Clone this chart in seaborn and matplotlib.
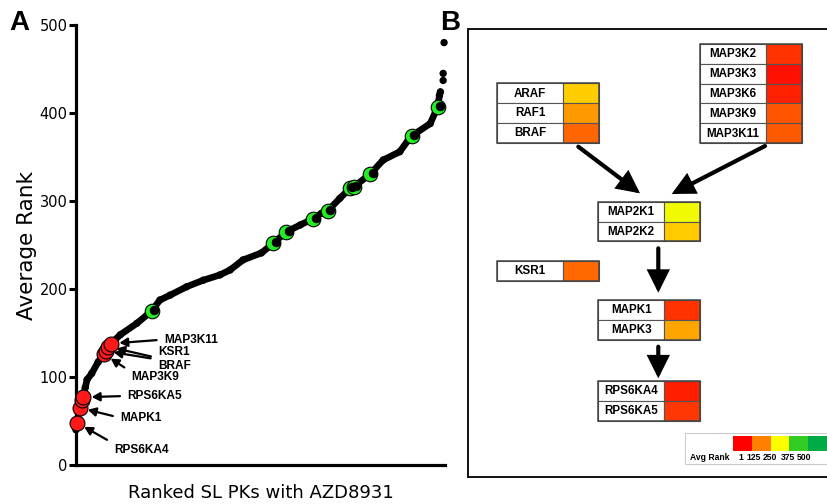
import numpy as np
import pandas as pd
import seaborn as sns
import matplotlib.pyplot as plt
from matplotlib.colors import LinearSegmentedColormap, Normalize
from matplotlib.patches import Rectangle, FancyArrowPatch
from matplotlib.transforms import offset_copy

# %%
# panel A: synthetic-lethal PKs ranked along x, average rank on y
pk_pos = [0, 1, 4, 6, 8, 10, 12, 17, 24, 30, 32, 35, 38, 48, 66, 82, 91, 102,
          120, 138, 156, 167, 181, 201, 214, 228, 243, 257, 266, 273, 286, 297,
          301, 319, 333, 351, 360, 364, 384, 392, 394, 395]
avg_rank = [40, 48, 65, 75, 77, 88, 97, 104, 117, 126, 129.5, 134.5, 138, 148,
            161, 175, 187.5, 193, 202.6, 210, 216, 221.6, 233, 241, 252, 265,
            272.7, 280, 286, 289, 303, 314.4, 316, 330.7, 346.6, 356, 369, 374,
            388, 407, 420, 424]
# isolated points at the top end
top_pos = [398, 398, 399]
top_rank = [437, 445, 480]

# MAPK pathway hits (red) and other highlighted PKs (green)
red_genes = ['RPS6KA4', 'MAPK1', '', 'RPS6KA5', 'MAP3K9', 'BRAF', 'KSR1', 'MAP3K11']
red_pos = [1, 4, 6, 8, 30, 32, 35, 38]
red_rank = [48, 65, 74, 77, 126, 129.5, 134.5, 138]
green_pos = [82, 214, 228, 257, 273, 297, 301, 319, 364, 392]
green_rank = [175, 252, 265, 280, 289, 314.4, 316, 330.7, 374, 407]

# panel B: pathway boxes, gene names and their avg rank (colour)
raf_genes = ['ARAF', 'RAF1', 'BRAF']
raf_rank = [200, 150, 100]
map3k_genes = ['MAP3K2', 'MAP3K3', 'MAP3K6', 'MAP3K9', 'MAP3K11']
map3k_rank = [50, 18, 34, 83, 88]
map2k_genes = ['MAP2K1', 'MAP2K2']
map2k_rank = [260, 198]
ksr_genes = ['KSR1']
ksr_rank = [104]
mapk_genes = ['MAPK1', 'MAPK3']
mapk_rank = [50, 161]
rsk_genes = ['RPS6KA4', 'RPS6KA5']
rsk_rank = [32, 55]
legend_ranks = [1, 125, 250, 375, 500]

# %%
sns.set_style('ticks')
plt.rcParams['font.family'] = ['DejaVu Sans']
plt.rcParams.update({'text.color': 'black', 'axes.labelcolor': 'black',
                     'xtick.color': 'black', 'ytick.color': 'black'})
BOLD = ['Liberation Sans', 'DejaVu Sans']

fig = plt.figure(figsize=(8.27, 5.04), dpi=100)
W, H = 827, 504

# ---------------- panel A
ax = fig.add_axes([76 / W, 39 / H, 369 / W, 440 / H])
curve = pd.DataFrame({'pos': pk_pos, 'rank': avg_rank})
tops = pd.DataFrame({'pos': top_pos, 'rank': top_rank})
reds = pd.DataFrame({'pos': red_pos, 'rank': red_rank, 'gene': red_genes})
greens = pd.DataFrame({'pos': green_pos, 'rank': green_rank})

sns.lineplot(data=curve, x='pos', y='rank', color='black', lw=4.8,
             estimator=None, solid_capstyle='round', solid_joinstyle='round',
             ax=ax, zorder=2, clip_on=False)
sns.scatterplot(data=pd.concat([curve, tops]), x='pos', y='rank', color='black',
                s=28, edgecolor='none', ax=ax, zorder=3, clip_on=False)
sns.scatterplot(data=greens, x='pos', y='rank', color='#22ee22', s=110,
                edgecolor='black', linewidth=0.8, ax=ax, zorder=4, clip_on=False)
# black centre of the green rings, slightly shifted like in the original
ax.scatter(greens['pos'], greens['rank'], s=34, color='black', zorder=5,
           transform=offset_copy(ax.transData, fig=fig, x=2.5, y=1.0, units='dots'))
sns.scatterplot(data=reds, x='pos', y='rank', color='#ff1a1a', s=115,
                edgecolor='black', linewidth=0.8, ax=ax, zorder=6, clip_on=False)

# label offsets (pixels from the marker) and arrow anchor on the text
label_layout = {
    'MAP3K11': (53, 4, (0, 0.5)),
    'KSR1': (50, -5.5, (0, 0.0)),
    'BRAF': (52.5, -14.5, (0, 1.0)),
    'MAP3K9': (27.5, -22.5, (0, 0.9)),
    'RPS6KA5': (44, 1.3, (0, 0.5)),
    'MAPK1': (40.5, -10, (0, 0.5)),
    'RPS6KA4': (37, -27, (0, 1.0)),
}
for _, row in reds.iterrows():
    if row['gene'] == '':
        continue
    dx, dy, rp = label_layout[row['gene']]
    ax.annotate(row['gene'], xy=(row['pos'], row['rank']), xytext=(dx, dy),
                textcoords='offset pixels', ha='left', va='center',
                fontsize=8.6, fontweight='bold', family=BOLD, zorder=7,
                arrowprops=dict(arrowstyle='-|>,head_length=0.55,head_width=0.3',
                                color='black', lw=1.6, relpos=rp,
                                shrinkA=3, shrinkB=6))

ax.set_xlim(0, 400)
ax.set_ylim(0, 500)
ax.set_xticks([])
ax.set_yticks(np.arange(0, 501, 100))
ax.tick_params(axis='y', length=5, width=2.2, labelsize=10.5, pad=1, direction='out')
for s in ['top', 'right']:
    ax.spines[s].set_visible(False)
for s in ['left', 'bottom']:
    ax.spines[s].set_linewidth(2.3)
    ax.spines[s].set_color('black')
ax.set_xlabel('Ranked SL PKs with AZD8931', fontsize=13, labelpad=14)
ax.set_ylabel('Average Rank', fontsize=15.5, labelpad=2)
ax.set_facecolor('none')

fig.text(9 / W, 1 - 30 / H, 'A', fontsize=20, fontweight='bold', family=BOLD, va='baseline')
fig.text(440 / W, 1 - 29.5 / H, 'B', fontsize=20, fontweight='bold', family=BOLD, va='baseline')

# ---------------- panel B
axb = fig.add_axes([467.5 / W, 1 - 477 / H, (835 - 467.5) / W, (477 - 29) / H])
axb.set_xlim(467.5, 835)
axb.set_ylim(477, 29)
axb.set_xticks([])
axb.set_yticks([])
for s in axb.spines.values():
    s.set_linewidth(1.4)
    s.set_color('#111111')

rank_cmap = LinearSegmentedColormap.from_list(
    'avg_rank', [(0, '#ff0000'), (124 / 499, '#ff8000'), (249 / 499, '#ffff00'),
                 (374 / 499, '#33cc22'), (1, '#00aa44')])
norm = Normalize(1, 500)

name_w, color_w, row_h = 66, 35.5, 19.8


def draw_group(genes, ranks, x0, y0):
    for i, (g, r) in enumerate(zip(genes, ranks)):
        y = y0 + i * row_h
        axb.add_patch(Rectangle((x0, y), name_w, row_h, facecolor='white',
                                edgecolor='#555555', lw=0.8))
        axb.add_patch(Rectangle((x0 + name_w, y), color_w, row_h,
                                facecolor=rank_cmap(norm(r)), edgecolor='#555555', lw=0.8))
        axb.text(x0 + name_w / 2, y + row_h / 2 + 0.5, g, ha='center', va='center',
                 fontsize=8.4, fontweight='bold', family=BOLD, color='black')
    axb.add_patch(Rectangle((x0, y0), name_w + color_w, row_h * len(genes),
                            fill=False, edgecolor='#444444', lw=1.1))


draw_group(raf_genes, raf_rank, 497.3, 83.3)
draw_group(map3k_genes, map3k_rank, 700, 44)
draw_group(map2k_genes, map2k_rank, 598.3, 201.7)
draw_group(ksr_genes, ksr_rank, 497.3, 261)
draw_group(mapk_genes, mapk_rank, 598.3, 300)
draw_group(rsk_genes, rsk_rank, 598.3, 381)

arrows = [((578.3, 146.7), (640, 193.3)),
          ((765, 146), (671.7, 194)),
          ((658.3, 248.3), (658.3, 292.7)),
          ((658.3, 346.7), (658.3, 378.3))]
for tail, head in arrows:
    axb.add_patch(FancyArrowPatch(tail, head, mutation_scale=20, lw=3, color='black',
                                  arrowstyle='-|>,head_length=0.6,head_width=0.3',
                                  shrinkA=0, shrinkB=0, joinstyle='miter'))

# colour key
axb.add_patch(Rectangle((685, 433), 150, 30.5, facecolor='white',
                        edgecolor='#cccccc', lw=0.8))
sq_w = 18.7
for i, r in enumerate(legend_ranks):
    axb.add_patch(Rectangle((733.3 + i * sq_w, 436.3), sq_w, 14.4,
                            facecolor=rank_cmap(norm(r)), edgecolor='none'))
axb.text(690, 457.5, 'Avg Rank', ha='left', va='center', fontsize=6.2,
         fontweight='bold', family=BOLD)
for xp, r in zip([741, 754, 770, 787.5, 804], legend_ranks):
    axb.text(xp, 457.5, str(r), ha='center', va='center', fontsize=6.2,
             fontweight='bold', family=BOLD)

fig.savefig('out.png', dpi=100)
